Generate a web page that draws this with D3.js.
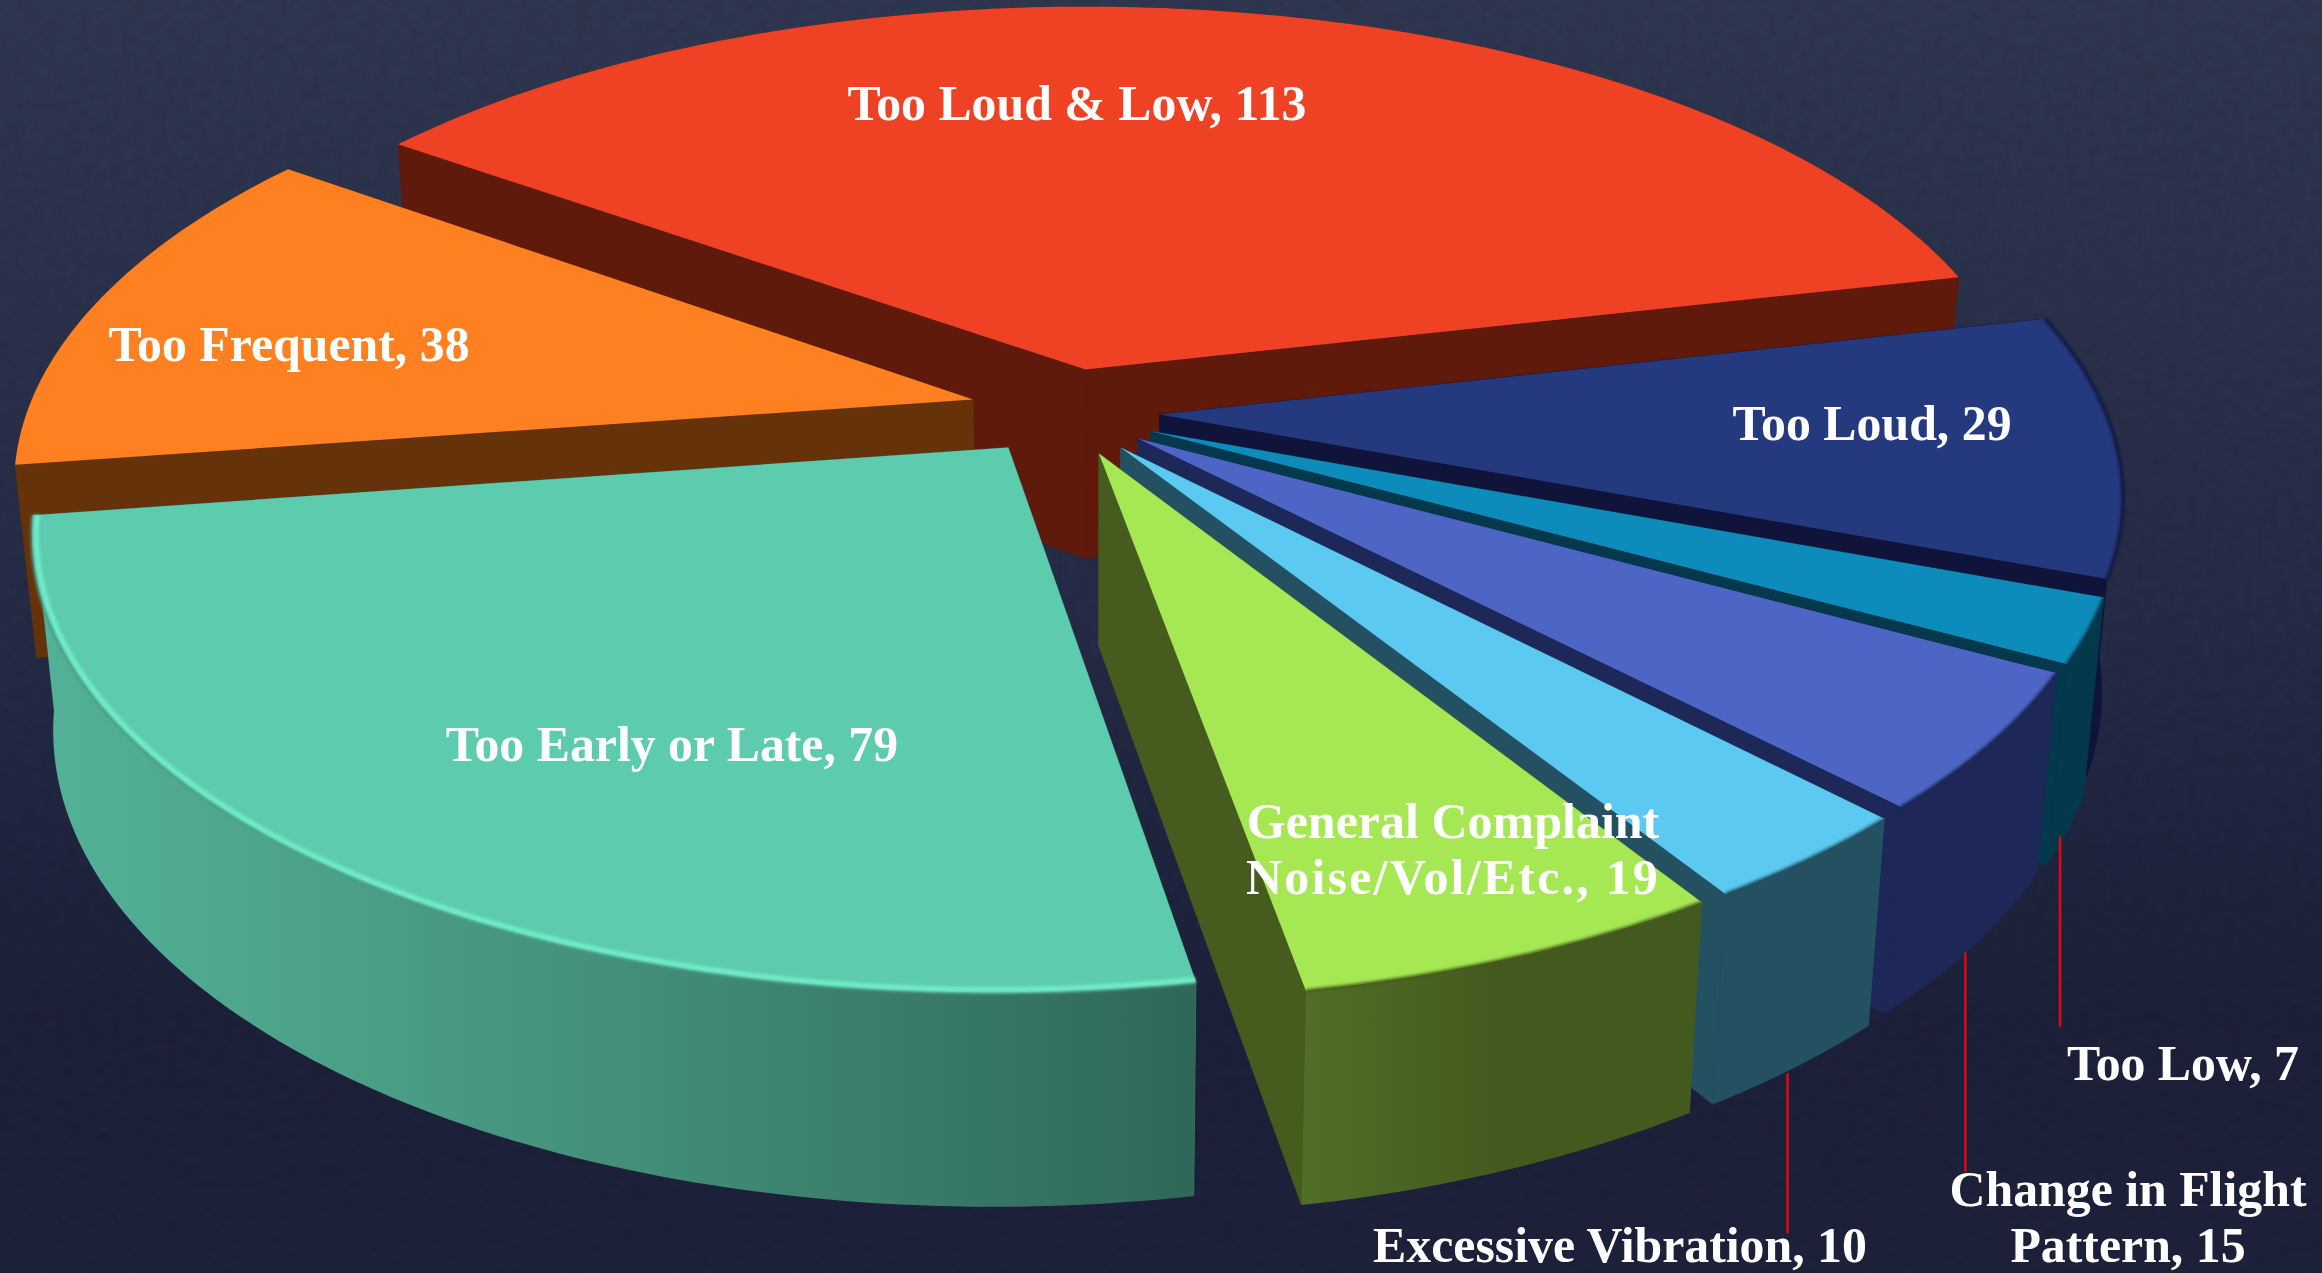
<!DOCTYPE html>
<html>
<head>
<meta charset="utf-8">
<style>
html,body{margin:0;padding:0;background:#1c2039;overflow:hidden}
svg{display:block}
text{font-family:"Liberation Serif",serif;font-weight:700;fill:#fff}
</style>
<script src="https://cdn.jsdelivr.net/npm/d3@7/dist/d3.min.js"></script>
</head>
<body>
<svg id="chart" width="2322" height="1273"></svg>
<script>
// ---- data
const names  = ["Too Loud & Low","Too Loud","Too Low","Change in Flight\nPattern","Excessive Vibration","General Complaint\nNoise/Vol/Etc.","Too Early or Late","Too Frequent"];
const values = [113,29,7,15,10,19,79,38];

// ---- styling
const topColors  = ["#ef4123","#25397f","#0d8cbb","#4d66c6","#5bc9f1","#a5e853","#5ccbae","#fe8020"];
const wallColors = ["#5f1a0c","#10143a","#04384c","#1e2858","#245162","#465c1e","#3f8a75","#65320a"];
const rimStops   = [null,null,null,null,null,["#506e28","#435a1e","#435a1e"],["#53b297","#43907a","#2f6758"],null];
// explosion of each slice, in plane units (x, y)
const explodeU = [-0.003,0.0741,0.064,0.051,0.033,0.0107,-0.0825,-0.121];
const explodeV = [-0.1195,-0.0168,0.02,0.0366,0.0563,0.0694,0.0563,-0.0505];
const drawOrder = [0,7,1,2,3,4,6,5];
// labels: centre x, first baseline y
const labelX = [1077,1872,2183,2128,1620,1453,672,289];
const labelY = [120,440,1080,1206,1262,838,761,361];
const labelSize = [49.8,49.8,49.8,49.8,49.8,50,49.8,49.8];
const lineStep = 56;
// leader lines (length per slice, 0 = none)
const leaderLen = [0,0,190,219,160,0,0,0];
const leaderShift = -8, leaderGap = 6;

// ---- projection
const W=2322,H=1273, cx=1088.5, cy=422, Rx=963, Ry=448, persp=0.174, depth=191, radius=0.986;
function project(u,v,z){
  const s=1/(1-persp*v);
  return [cx+Rx*u*s*(1-0.02*z), cy+z*depth+Ry*v*s*(1+0.041*z)];
}

const svg=d3.select("#chart");
const defs=svg.append("defs");
const bg=defs.append("linearGradient").attr("id","bg").attr("x1",0).attr("y1",0).attr("x2",0).attr("y2",1);
bg.append("stop").attr("offset",0).attr("stop-color","#2f364f");
bg.append("stop").attr("offset",0.45).attr("stop-color","#262c47");
bg.append("stop").attr("offset",0.8).attr("stop-color","#1c2039");
bg.append("stop").attr("offset",1).attr("stop-color","#1d213a");
const noise=defs.append("filter").attr("id","noise").attr("x",0).attr("y",0).attr("width","100%").attr("height","100%");
noise.append("feTurbulence").attr("type","fractalNoise").attr("baseFrequency",0.09).attr("numOctaves",3).attr("seed",4);
noise.append("feColorMatrix").attr("values","0 0 0 0 0  0 0 0 0 0  0 0 0 0 0  0 0 0 1.6 -0.6");
const soft=defs.append("filter").attr("id","soft").attr("x","-5%").attr("y","-5%").attr("width","110%").attr("height","110%");
soft.append("feGaussianBlur").attr("stdDeviation",1.6);

svg.append("rect").attr("width",W).attr("height",H).attr("fill","url(#bg)");
svg.append("rect").attr("width",W).attr("height",H).attr("filter","url(#noise)").attr("opacity",0.07);

const pieGen=d3.pie().value(d=>d).sort(null).startAngle(-54.3*Math.PI/180).endAngle((360-54.3)*Math.PI/180);
const slices=pieGen(values);
const line=d3.line();

function rimPts(d,i,z,r){
  const n=Math.max(8,Math.ceil((d.endAngle-d.startAngle)*60));
  return d3.range(n+1).map(k=>{
    const a=d.startAngle+(d.endAngle-d.startAngle)*k/n;
    return project(explodeU[i]+r*Math.sin(a),explodeV[i]-r*Math.cos(a),z);
  });
}

slices.forEach((d,i)=>{
  if(!rimStops[i])return;
  const pts=rimPts(d,i,0,radius);
  const g=defs.append("linearGradient").attr("id","rim"+i).attr("gradientUnits","userSpaceOnUse")
    .attr("x1",d3.min(pts,p=>p[0])).attr("x2",d3.max(pts,p=>p[0])).attr("y1",0).attr("y2",0);
  rimStops[i].forEach((c,k)=>g.append("stop").attr("offset",k/2).attr("stop-color",c));
});

const pie=svg.append("g");
drawOrder.forEach(i=>{
  const d=slices[i], g=pie.append("g").attr("class","slice");
  const a0=project(explodeU[i],explodeV[i],0), a1=project(explodeU[i],explodeV[i],1);
  const top=rimPts(d,i,0,radius), bot=rimPts(d,i,1,radius);
  // radial walls
  g.append("path").attr("fill",wallColors[i]).attr("stroke",wallColors[i]).attr("stroke-width",0.6)
    .attr("d",line([a0,top[0],bot[0],a1])+"Z");
  g.append("path").attr("fill",i===6?"#2f6758":wallColors[i]).attr("stroke",i===6?"#2f6758":wallColors[i]).attr("stroke-width",0.6)
    .attr("d",line([a0,top[top.length-1],bot[bot.length-1],a1])+"Z");
  // outer wall
  g.append("path").attr("fill",rimStops[i]?`url(#rim${i})`:wallColors[i])
    .attr("d",line(top.concat(bot.slice().reverse()))+"Z");
  // top face
  g.append("path").attr("fill",topColors[i]).attr("d",line([a0].concat(top))+"Z");
  // soft edge between top and outer wall
  if(i>=1&&i<=6){
    g.append("path").attr("fill","none").attr("stroke",i===6?"#46967f":wallColors[i]).attr("stroke-width",3).attr("filter","url(#soft)").attr("d",line(top));
  }
  if(i===6){
    g.append("path").attr("fill","none").attr("stroke","#70eccb").attr("stroke-width",5.5).attr("filter","url(#soft)")
      .attr("d",line(rimPts(d,i,0,radius-0.004)));
  }
});

// leader lines
slices.forEach((d,i)=>{
  if(!leaderLen[i])return;
  const mid=(d.startAngle+d.endAngle)/2;
  const p=project(explodeU[i]+radius*Math.sin(mid),explodeV[i]-radius*Math.cos(mid),1);
  svg.append("line").attr("x1",p[0]+leaderShift).attr("x2",p[0]+leaderShift).attr("y1",p[1]+leaderGap).attr("y2",p[1]+leaderGap+leaderLen[i])
    .attr("stroke","#e30613").attr("stroke-width",2.5);
});

// labels
slices.forEach((d,i)=>{
  const lines=`${names[i]}, ${values[i]}`.split("\n");
  const t=svg.append("text").attr("text-anchor","middle").attr("font-size",labelSize[i]);
  lines.forEach((s,k)=>{
    const ts=t.append("tspan").attr("x",labelX[i]).attr("y",labelY[i]+k*lineStep).text(s);
    if(i===5&&k===1)ts.attr("letter-spacing",2.2);
  });
});
</script>
</body>
</html>
